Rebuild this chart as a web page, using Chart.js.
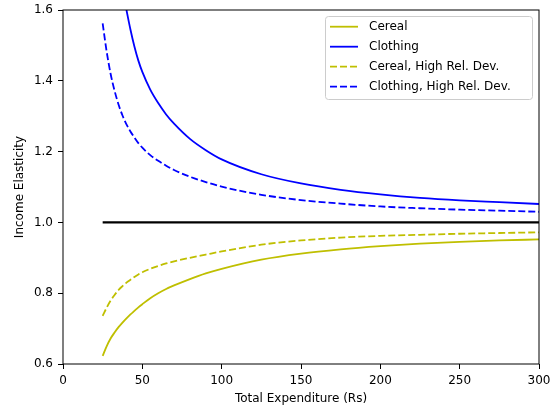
<!DOCTYPE html>
<html lang="en">
<head>
    <meta charset="UTF-8">
    <title>Income Elasticity</title>
    <script src="https://cdn.jsdelivr.net/npm/chart.js"></script>
    <style>
        body { margin: 0; background: #fff; }
    </style>
</head>
<body>
    <canvas id="elasticityChart" width="558" height="408"></canvas>

<script>
    // values
    var expenditure = [25, 27.5, 30, 32.5, 35, 37.5, 40, 42.5, 45, 47.5, 50, 55, 60, 65, 70, 80, 90, 100, 125, 150, 175, 200, 225, 250, 275, 300];

    var cereal = [0.623, 0.650, 0.672, 0.689, 0.704, 0.717, 0.729, 0.740, 0.750, 0.760, 0.769, 0.786, 0.800, 0.812, 0.822, 0.840, 0.856, 0.869, 0.895, 0.912, 0.924, 0.933, 0.940, 0.945, 0.949, 0.952];
    // clothing runs off the top of the plot below ~40
    var clothing = [null, null, null, null, null, null, 1.600, 1.545, 1.497, 1.457, 1.425, 1.375, 1.337, 1.305, 1.279, 1.236, 1.204, 1.178, 1.136, 1.110, 1.092, 1.079, 1.069, 1.062, 1.057, 1.052];
    var cerealHigh = [0.736, 0.759, 0.779, 0.795, 0.809, 0.820, 0.830, 0.838, 0.846, 0.853, 0.859, 0.869, 0.877, 0.884, 0.890, 0.900, 0.909, 0.918, 0.937, 0.949, 0.957, 0.962, 0.965, 0.968, 0.970, 0.972];
    var clothingHigh = [1.562, 1.483, 1.420, 1.372, 1.333, 1.302, 1.277, 1.257, 1.240, 1.224, 1.211, 1.190, 1.174, 1.160, 1.148, 1.129, 1.114, 1.101, 1.078, 1.063, 1.053, 1.045, 1.040, 1.036, 1.033, 1.030];

    var unitX = [25, 300];
    var unitY = [1, 1];

    var yTicks = [0.6, 0.8, 1.0, 1.2, 1.4, 1.6];
    var xTicks = [0, 50, 100, 150, 200, 250, 300];

    function toPoints(xs, ys) {
        var pts = [];
        for (var i = 0; i < xs.length; i++) {
            if (ys[i] !== null) pts.push({ x: xs[i], y: ys[i] });
        }
        return pts;
    }

    var OLIVE = '#bfbf00';
    var BLUE = '#0000ff';
    var DASH = [7, 3];

    // box around the plot (all four sides)
    var framePlugin = {
        id: 'frame',
        afterDatasetsDraw: function (chart) {
            var a = chart.chartArea, ctx = chart.ctx;
            ctx.save();
            ctx.strokeStyle = '#000';
            ctx.lineWidth = 1;
            ctx.strokeRect(a.left, a.top, a.right - a.left, a.bottom - a.top);
            ctx.restore();
        }
    };

    // legend drawn inside the plot, top right, like matplotlib
    var legendBox = {
        id: 'legendBox',
        afterDraw: function (chart) {
            var ctx = chart.ctx;
            var sets = chart.data.datasets.filter(function (d) { return d.label; });
            var x = 325.5, y = 16.5, w = 207, h = 83;
            ctx.save();
            ctx.fillStyle = 'rgba(255,255,255,0.8)';
            ctx.strokeStyle = '#cccccc';
            ctx.lineWidth = 1;
            ctx.beginPath();
            ctx.roundRect(x, y, w, h, 3);
            ctx.fill();
            ctx.stroke();

            ctx.font = '12px "DejaVu Sans"';
            ctx.textBaseline = 'middle';
            ctx.textAlign = 'left';
            sets.forEach(function (d, i) {
                var ry = 26.7 + i * 20;
                ctx.strokeStyle = d.borderColor;
                ctx.lineWidth = d.borderWidth;
                ctx.setLineDash(d.borderDash || []);
                ctx.beginPath();
                ctx.moveTo(330, ry);
                ctx.lineTo(358, ry);
                ctx.stroke();
                ctx.setLineDash([]);
                ctx.fillStyle = '#000';
                ctx.fillText(d.label, 369, ry + 0.5);
            });
            ctx.restore();
        }
    };

    Chart.defaults.font.family = '"DejaVu Sans"';
    Chart.defaults.font.size = 12;
    Chart.defaults.color = '#000';

    var ctx = document.getElementById('elasticityChart').getContext('2d');
    new Chart(ctx, {
        type: 'line',
        data: {
            datasets: [
                { label: 'Cereal', data: toPoints(expenditure, cereal), borderColor: OLIVE, borderWidth: 1.8 },
                { label: 'Clothing', data: toPoints(expenditure, clothing), borderColor: BLUE, borderWidth: 1.8 },
                { label: 'Cereal, High Rel. Dev.', data: toPoints(expenditure, cerealHigh), borderColor: OLIVE, borderWidth: 1.8, borderDash: DASH },
                { label: 'Clothing, High Rel. Dev.', data: toPoints(expenditure, clothingHigh), borderColor: BLUE, borderWidth: 1.8, borderDash: DASH },
                { label: '', data: toPoints(unitX, unitY), borderColor: '#000', borderWidth: 2.4 }
            ]
        },
        options: {
            responsive: false,
            animation: false,
            layout: { padding: { top: 10, right: 19, left: 0, bottom: 0 } },
            elements: {
                point: { radius: 0 },
                line: { cubicInterpolationMode: 'monotone', fill: false }
            },
            plugins: {
                legend: { display: false },
                tooltip: { enabled: false }
            },
            scales: {
                x: {
                    type: 'linear',
                    min: 0,
                    max: 300,
                    afterFit: function (s) { s.height = 44; s.paddingLeft = 0; s.paddingRight = 0; },
                    afterBuildTicks: function (s) { s.ticks = xTicks.map(function (v) { return { value: v }; }); },
                    grid: { display: true, drawOnChartArea: false, drawTicks: true, tickLength: 5, color: '#000' },
                    border: { display: false },
                    ticks: { padding: 5, maxRotation: 0 },
                    title: { display: true, text: 'Total Expenditure (Rs)', padding: { top: 0, bottom: 2 } }
                },
                y: {
                    min: 0.6,
                    max: 1.6,
                    afterFit: function (s) { s.width = 63; s.paddingTop = 0; s.paddingBottom = 0; },
                    afterBuildTicks: function (s) { s.ticks = yTicks.map(function (v) { return { value: v }; }); },
                    grid: { display: true, drawOnChartArea: false, drawTicks: true, tickLength: 5, color: '#000' },
                    border: { display: false },
                    ticks: {
                        padding: 5,
                        callback: function (v) { return v.toFixed(1); }
                    },
                    title: { display: true, text: 'Income Elasticity', padding: { top: 13, bottom: 0 } }
                }
            }
        },
        plugins: [framePlugin, legendBox]
    });
</script>
</body>
</html>
